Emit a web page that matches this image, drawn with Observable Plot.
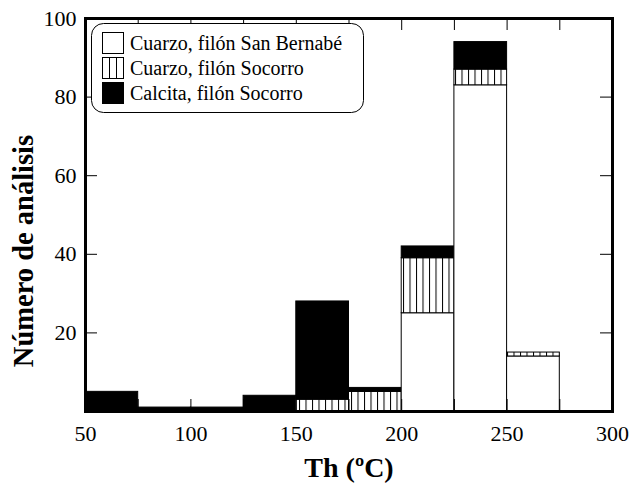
<!DOCTYPE html>
<html>
<head>
<meta charset="utf-8">
<script src="https://cdn.jsdelivr.net/npm/d3@7"></script>
<script src="https://cdn.jsdelivr.net/npm/@observablehq/plot@0.6"></script>
<style>
  html, body { margin: 0; padding: 0; background: white; }
</style>
</head>
<body>
<div id="chart"></div>
<script>
// ---- data ----
const binStarts = [50, 75, 100, 125, 150, 175, 200, 225, 250];
const binWidth = 25;
const seriesNames = ["Cuarzo, filón San Bernabé", "Cuarzo, filón Socorro", "Calcita, filón Socorro"];
const sanBernabe     = [0, 0, 0, 0, 0, 0, 25, 83, 14];
const cuarzoSocorro  = [0, 0, 0, 0, 3, 5, 14, 4, 1];
const calcitaSocorro = [5, 1, 1, 4, 25, 1, 3, 7, 0];
const xTickLabels = [50, 100, 150, 200, 250, 300];
const xMinorTicks = [75, 100, 125, 150, 175, 200, 225, 250, 275];
const yTickLabels = [20, 40, 60, 80, 100];
const xLabel = "Th (ºC)";
const yLabel = "Número de análisis";

// ---- long table ----
const seriesValues = [sanBernabe, cuarzoSocorro, calcitaSocorro];
const table = [];
binStarts.forEach((b, i) => {
  seriesValues.forEach((vals, s) => {
    if (vals[i] > 0) table.push({x1: b, x2: b + binWidth, n: vals[i], serie: seriesNames[s]});
  });
});

const W = 634, H = 490;
const mL = 85, mR = 22, mT = 18, mB = 79;
const innerW = W - mL - mR, innerH = H - mT - mB;
const tickLen = 12;
const serif = "'Liberation Serif', 'Times New Roman', serif";

const chart = Plot.plot({
  width: W, height: H,
  marginLeft: mL, marginRight: mR, marginTop: mT, marginBottom: mB,
  style: {fontFamily: serif, fontSize: "22px", background: "white", color: "black"},
  x: {domain: [50, 300]},
  y: {domain: [0, 100]},
  color: {domain: seriesNames, range: ["white", "url(#vhatch)", "black"]},
  marks: [
    Plot.rectY(table, {x1: "x1", x2: "x2", y: "n", z: "serie", fill: "serie", stroke: "black", strokeWidth: 1}),
    // inward ticks bottom & top
    Plot.tickX(xMinorTicks, {x: d => d, insetTop: innerH - tickLen, stroke: "black", strokeWidth: 1}),
    Plot.tickX(xMinorTicks, {x: d => d, insetBottom: innerH - tickLen, stroke: "black", strokeWidth: 1}),
    // inward ticks left & right
    Plot.tickY(yTickLabels.slice(0, 4), {y: d => d, insetRight: innerW - tickLen, stroke: "black", strokeWidth: 1}),
    Plot.tickY(yTickLabels.slice(0, 4), {y: d => d, insetLeft: innerW - tickLen, stroke: "black", strokeWidth: 1}),
    Plot.axisX({ticks: xTickLabels, tickSize: 0, tickPadding: 14, label: null, fontSize: 22}),
    Plot.axisY({ticks: yTickLabels, tickSize: 0, tickPadding: 9, label: null, fontSize: 22}),
    Plot.text([xLabel], {frameAnchor: "bottom", dy: 57, text: d => d, textAnchor: "middle", lineAnchor: "middle", fontWeight: "bold", fontSize: 28}),
    Plot.text([yLabel], {frameAnchor: "left", rotate: -90, dx: -62, dy: 36, text: d => d, textAnchor: "middle", lineAnchor: "middle", fontWeight: "bold", fontSize: 28.5}),
    Plot.frame({stroke: "black", strokeWidth: 3})
  ]
});

const svg = d3.select(chart);
const defs = svg.insert("defs", ":first-child");
const pat = defs.append("pattern")
  .attr("id", "vhatch")
  .attr("patternUnits", "userSpaceOnUse")
  .attr("width", 6.5).attr("height", 10);
pat.append("rect").attr("width", 6.5).attr("height", 10).attr("fill", "white");
pat.append("line").attr("x1", 0.5).attr("x2", 0.5).attr("y1", 0).attr("y2", 10)
  .attr("stroke", "black").attr("stroke-width", 1);

const pat2 = defs.append("pattern")
  .attr("id", "vhatchLegend")
  .attr("patternUnits", "userSpaceOnUse")
  .attr("x", 102)
  .attr("width", 7).attr("height", 10);
pat2.append("rect").attr("width", 7).attr("height", 10).attr("fill", "white");
pat2.append("line").attr("x1", 0.5).attr("x2", 0.5).attr("y1", 0).attr("y2", 10)
  .attr("stroke", "black").attr("stroke-width", 1);

// ---- legend ----
const lg = svg.append("g")
  .attr("font-family", serif).attr("font-size", 20).attr("text-anchor", "start");
lg.append("rect").attr("x", 91.5).attr("y", 23.5).attr("width", 272).attr("height", 89)
  .attr("rx", 12).attr("fill", "white").attr("stroke", "black").attr("stroke-width", 1);
const legendFills = ["white", "url(#vhatchLegend)", "black"];
seriesNames.forEach((name, i) => {
  const cy = 43 + i * 25;
  lg.append("rect").attr("x", 102.5).attr("y", cy - 10.5).attr("width", 21).attr("height", 21)
    .attr("fill", legendFills[i]).attr("stroke", "black").attr("stroke-width", 1);
  lg.append("text").attr("x", 130).attr("y", cy).attr("dy", "0.35em")
    .attr("text-anchor", "start").attr("fill", "black").text(name);
});

document.getElementById("chart").appendChild(chart);
</script>
</body>
</html>
